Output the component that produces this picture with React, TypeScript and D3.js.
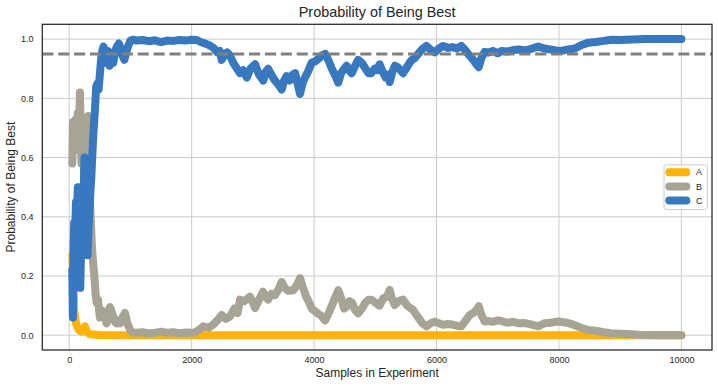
import React, { useRef, useEffect } from 'react';
import * as d3 from 'd3';

// samples in experiment / probability of being best
const samplesA = [50, 60, 70, 80, 95, 110, 130, 150, 175, 200, 230, 256, 290, 340, 500, 1000, 3000, 6000, 8000, 10000];
const probA = [0.27, 0.21, 0.15, 0.09, 0.06, 0.04, 0.03, 0.02, 0.015, 0.012, 0.02, 0.03, 0.01, 0.003, 0.001, 0, 0, 0, 0, 0];

const samplesB = [50, 60, 70, 80, 95, 110, 125, 140, 160, 175, 190, 200, 215, 230, 245, 260, 275, 290, 310, 325, 338, 355, 370, 392, 410, 430, 447, 470, 500, 530, 555, 583, 610, 640, 665, 692, 720, 747, 775, 800, 830, 870, 910, 950, 990, 1020, 1100, 1200, 1300, 1400, 1500, 1600, 1700, 1800, 1900, 2030, 2100, 2190, 2270, 2350, 2420, 2490, 2560, 2625, 2700, 2750, 2790, 2860, 2953, 3000, 3035, 3100, 3165, 3210, 3250, 3300, 3360, 3420, 3470, 3520, 3580, 3660, 3720, 3770, 3820, 3870, 3920, 3960, 4050, 4120, 4180, 4250, 4320, 4395, 4450, 4490, 4530, 4580, 4620, 4670, 4720, 4780, 4840, 4890, 4935, 5000, 5070, 5130, 5190, 5235, 5270, 5317, 5380, 5453, 5520, 5617, 5700, 5770, 5835, 5900, 5970, 6040, 6106, 6180, 6260, 6330, 6405, 6460, 6540, 6600, 6650, 6690, 6730, 6787, 6850, 6920, 7000, 7060, 7150, 7250, 7350, 7450, 7560, 7660, 7760, 7860, 7985, 8100, 8200, 8300, 8400, 8475, 8600, 8730, 8856, 9000, 9200, 9347, 9600, 9800, 10000];
const probB = [0.58, 0.72, 0.62, 0.70, 0.64, 0.73, 0.66, 0.75, 0.70, 0.82, 0.68, 0.58, 0.63, 0.66, 0.52, 0.45, 0.55, 0.62, 0.74, 0.60, 0.45, 0.38, 0.30, 0.24, 0.20, 0.14, 0.11, 0.12, 0.06, 0.085, 0.06, 0.062, 0.04, 0.08, 0.095, 0.08, 0.06, 0.045, 0.04, 0.05, 0.04, 0.06, 0.075, 0.04, 0.02, 0.01, 0.008, 0.01, 0.006, 0.008, 0.012, 0.008, 0.01, 0.007, 0.009, 0.008, 0.015, 0.03, 0.025, 0.035, 0.05, 0.068, 0.055, 0.063, 0.09, 0.075, 0.12, 0.115, 0.13, 0.11, 0.092, 0.12, 0.147, 0.13, 0.12, 0.14, 0.135, 0.155, 0.18, 0.16, 0.15, 0.152, 0.17, 0.193, 0.16, 0.13, 0.11, 0.09, 0.075, 0.065, 0.05, 0.08, 0.115, 0.152, 0.12, 0.09, 0.096, 0.115, 0.11, 0.085, 0.074, 0.09, 0.11, 0.12, 0.12, 0.11, 0.10, 0.125, 0.13, 0.153, 0.125, 0.102, 0.115, 0.12, 0.10, 0.085, 0.06, 0.04, 0.03, 0.04, 0.046, 0.04, 0.035, 0.038, 0.036, 0.032, 0.03, 0.045, 0.068, 0.075, 0.085, 0.098, 0.07, 0.046, 0.048, 0.045, 0.05, 0.048, 0.042, 0.045, 0.04, 0.041, 0.036, 0.03, 0.04, 0.042, 0.046, 0.043, 0.038, 0.03, 0.022, 0.018, 0.015, 0.01, 0.007, 0.005, 0.003, 0.001, 0, 0, 0];

const samplesC = [50, 60, 70, 80, 95, 110, 125, 140, 160, 180, 195, 210, 230, 250, 265, 280, 300, 315, 330, 345, 360, 380, 400, 420, 440, 460, 480, 500, 520, 540, 560, 580, 600, 630, 660, 690, 720, 750, 780, 810, 840, 870, 900, 930, 960, 1000, 1050, 1100, 1200, 1300, 1400, 1500, 1600, 1700, 1800, 1900, 2000, 2080, 2150, 2220, 2300, 2360, 2420, 2460, 2490, 2530, 2580, 2625, 2680, 2740, 2790, 2840, 2900, 2960, 3035, 3100, 3170, 3210, 3250, 3300, 3360, 3420, 3470, 3510, 3550, 3600, 3650, 3690, 3730, 3770, 3810, 3850, 3900, 3960, 4020, 4080, 4130, 4180, 4230, 4290, 4350, 4395, 4440, 4490, 4530, 4570, 4615, 4670, 4720, 4780, 4840, 4890, 4935, 4990, 5030, 5070, 5120, 5170, 5210, 5235, 5280, 5320, 5370, 5410, 5453, 5500, 5560, 5600, 5643, 5700, 5760, 5835, 5900, 5970, 6040, 6106, 6180, 6260, 6330, 6405, 6460, 6540, 6600, 6650, 6690, 6730, 6787, 6850, 6920, 7000, 7060, 7150, 7250, 7350, 7450, 7560, 7660, 7760, 7860, 7950, 8040, 8150, 8260, 8370, 8475, 8600, 8730, 8856, 9000, 9200, 9400, 9600, 9800, 10000];
const probC = [0.22, 0.06, 0.30, 0.38, 0.33, 0.45, 0.40, 0.50, 0.36, 0.16, 0.30, 0.48, 0.44, 0.60, 0.55, 0.50, 0.27, 0.36, 0.42, 0.48, 0.53, 0.62, 0.70, 0.76, 0.84, 0.85, 0.83, 0.88, 0.93, 0.96, 0.975, 0.95, 0.92, 0.96, 0.91, 0.95, 0.92, 0.96, 0.975, 0.985, 0.97, 0.945, 0.93, 0.955, 0.975, 0.995, 0.998, 0.995, 0.997, 0.993, 0.996, 0.99, 0.995, 0.994, 0.997, 0.995, 0.998, 0.997, 0.99, 0.985, 0.978, 0.97, 0.955, 0.96, 0.93, 0.945, 0.955, 0.945, 0.92, 0.9, 0.885, 0.895, 0.87, 0.9, 0.915, 0.88, 0.86, 0.89, 0.9, 0.88, 0.86, 0.845, 0.83, 0.86, 0.875, 0.86, 0.88, 0.885, 0.85, 0.815, 0.85, 0.87, 0.89, 0.92, 0.925, 0.935, 0.945, 0.95, 0.93, 0.9, 0.875, 0.853, 0.885, 0.9, 0.91, 0.895, 0.885, 0.91, 0.93, 0.92, 0.9, 0.885, 0.885, 0.9, 0.895, 0.915, 0.89, 0.87, 0.88, 0.855, 0.89, 0.91, 0.905, 0.895, 0.885, 0.9, 0.92, 0.93, 0.935, 0.95, 0.965, 0.977, 0.965, 0.955, 0.968, 0.977, 0.97, 0.973, 0.968, 0.977, 0.965, 0.944, 0.93, 0.915, 0.905, 0.935, 0.957, 0.955, 0.96, 0.952, 0.96, 0.958, 0.963, 0.965, 0.962, 0.968, 0.975, 0.968, 0.965, 0.962, 0.96, 0.965, 0.968, 0.98, 0.988, 0.99, 0.994, 0.998, 0.997, 0.999, 1.0, 1.0, 1.0, 1.0];

const seriesNames = ['A', 'B', 'C'];
const seriesColors = ['#feb308', '#a8a495', '#3778bf'];
const xTicks = [0, 2000, 4000, 6000, 8000, 10000];
const yTicks = [0.0, 0.2, 0.4, 0.6, 0.8, 1.0];
const threshold = 0.95;

const W = 718;
const H = 387;
const FONT = '"Liberation Sans", Arial, sans-serif';

const App = () => {
  const ref = useRef<SVGSVGElement>(null);

  useEffect(() => {
    const margin = { top: 24.3, right: 6, bottom: 37, left: 42.3 };
    const width = W - margin.left - margin.right;
    const height = H - margin.top - margin.bottom;

    const svg = d3.select(ref.current);
    svg.selectAll('*').remove();

    const x = d3.scaleLinear().domain([-440, 10500]).range([0, width]);
    const y = d3.scaleLinear().domain([-0.05, 1.05]).range([height, 0]);

    const g = svg.append('g').attr('transform', `translate(${margin.left},${margin.top})`);

    // grid
    g.selectAll('line.vgrid').data(xTicks).enter().append('line')
      .attr('x1', d => x(d)).attr('x2', d => x(d))
      .attr('y1', 0).attr('y2', height)
      .attr('stroke', '#cccccc').attr('stroke-width', 1);
    g.selectAll('line.hgrid').data(yTicks).enter().append('line')
      .attr('x1', 0).attr('x2', width)
      .attr('y1', d => y(d)).attr('y2', d => y(d))
      .attr('stroke', '#cccccc').attr('stroke-width', 1);

    g.append('defs').append('clipPath').attr('id', 'clip')
      .append('rect').attr('width', width).attr('height', height);

    const plot = g.append('g').attr('clip-path', 'url(#clip)');

    const series = [
      { xs: samplesA, ys: probA },
      { xs: samplesB, ys: probB },
      { xs: samplesC, ys: probC },
    ];
    const ln = d3.line<[number, number]>().x(d => x(d[0])).y(d => y(d[1]));

    series.forEach((s, i) => {
      const pts = s.xs.map((v, j) => [v, s.ys[j]] as [number, number]);
      plot.append('path')
        .attr('d', ln(pts))
        .attr('fill', 'none')
        .attr('stroke', seriesColors[i])
        .attr('stroke-width', 8)
        .attr('stroke-linejoin', 'round')
        .attr('stroke-linecap', 'round');
    });

    // 95% threshold
    plot.append('line')
      .attr('x1', 0).attr('x2', width)
      .attr('y1', y(threshold)).attr('y2', y(threshold))
      .attr('stroke', '#808080').attr('stroke-width', 3)
      .attr('stroke-dasharray', '11.1 4.8');

    // frame
    g.append('rect').attr('width', width).attr('height', height)
      .attr('fill', 'none').attr('stroke', '#262626').attr('stroke-width', 1.25);

    const xAxis = g.append('g').attr('transform', `translate(0,${height})`)
      .call(d3.axisBottom(x).tickValues(xTicks).tickSize(0).tickPadding(7).tickFormat(d3.format('d')));
    const yAxis = g.append('g')
      .call(d3.axisLeft(y).tickValues(yTicks).tickSize(0).tickPadding(8.8).tickFormat(d3.format('.1f')));
    [xAxis, yAxis].forEach(a => {
      a.select('.domain').remove();
      a.selectAll('text').attr('fill', '#262626').style('font-family', FONT).style('font-size', '9px');
    });

    // legend
    const lw = 43.3, lh = 44.7;
    const lg = g.append('g').attr('transform', `translate(${width - 4.7 - lw},${height / 2 - lh / 2})`);
    lg.append('rect').attr('width', lw).attr('height', lh).attr('rx', 2.5)
      .attr('fill', 'white').attr('fill-opacity', 0.8)
      .attr('stroke', '#cccccc').attr('stroke-width', 1);
    seriesNames.forEach((name, i) => {
      const yy = 7.4 + i * 14.2;
      lg.append('line').attr('x1', 5.3).attr('x2', 22.3).attr('y1', yy).attr('y2', yy)
        .attr('stroke', seriesColors[i]).attr('stroke-width', 8).attr('stroke-linecap', 'round');
      lg.append('text').attr('x', 32).attr('y', yy).attr('dy', '0.35em')
        .attr('fill', '#262626').style('font-family', FONT).style('font-size', '9px')
        .text(name);
    });

    // labels
    svg.append('text').attr('x', margin.left + width / 2).attr('y', 17.3)
      .attr('text-anchor', 'middle').attr('fill', '#262626')
      .style('font-family', FONT).style('font-size', '14.4px')
      .text('Probability of Being Best');
    svg.append('text').attr('x', margin.left + width / 2).attr('y', 377)
      .attr('text-anchor', 'middle').attr('fill', '#262626')
      .style('font-family', FONT).style('font-size', '12px')
      .text('Samples in Experiment');
    svg.append('text')
      .attr('transform', `translate(15,${margin.top + height / 2}) rotate(-90)`)
      .attr('text-anchor', 'middle').attr('fill', '#262626')
      .style('font-family', FONT).style('font-size', '12px')
      .text('Probability of Being Best');
  }, []);

  return (
    <div style={{ position: 'absolute', left: 0, top: 0 }}>
      <svg ref={ref} width={W} height={H} style={{ display: 'block', background: 'white' }} />
    </div>
  );
};

export default App;
